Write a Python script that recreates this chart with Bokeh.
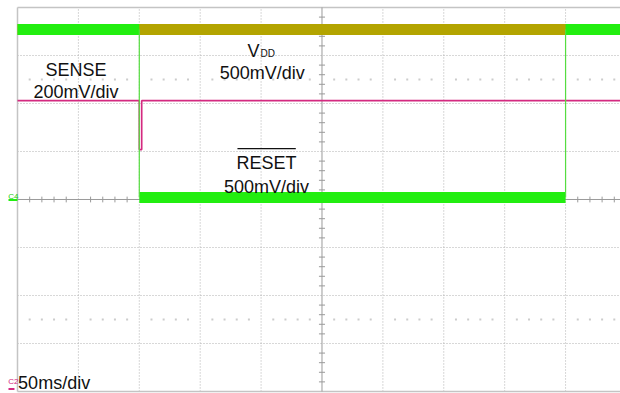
from bokeh.plotting import figure
from bokeh.models import Range1d, ColumnDataSource
from bokeh.core.properties import value
from bokeh.embed import file_html
from bokeh.resources import INLINE

# ---- data (x in ms, 50 ms/div; y in screen divisions) ----
time_div_ms = 50
n_xdiv = 10
n_ydiv = 8

vdd_t = [0, 500]
vdd_y = [3.54, 3.54]

reset_high_t = [[0, 100], [450, 500]]
reset_high_y = [[3.54, 3.54], [3.54, 3.54]]
reset_low_t = [100, 450]
reset_low_y = [0.04, 0.04]
reset_edges_t = [[100, 100], [450, 450]]
reset_edges_y = [[3.54, 0.04], [0.04, 3.54]]

sense_t = [0, 100, 100, 102, 102, 500]
sense_y = [2.06, 2.06, 1.04, 1.04, 2.06, 2.06]

label_text = ["SENSE", "200mV/div", "V", "500mV/div", "RESET", "500mV/div", "50ms/div"]

FONT = value("Liberation Sans")

p = figure(width=620, height=393, x_range=Range1d(-13.96, 495.1), y_range=Range1d(-4.042, 4.146),
           output_backend="svg", toolbar_location=None, min_border=0,
           x_axis_location=None, y_axis_location=None, outline_line_color=None,
           background_fill_color="white", border_fill_color="white")
p.grid.visible = False

# ---- graticule ----
xs_major = [i * time_div_ms for i in range(0, n_xdiv + 1)]
ys_major = [j for j in range(-4, 5)]
inner_x = [x for x in xs_major if x not in (0, 250)]
inner_y = [y for y in ys_major if y not in (-4, 0, 4)]
p.segment(x0=inner_x, y0=[-4] * len(inner_x), x1=inner_x, y1=[4] * len(inner_x),
          line_color="#b0b0b0", line_width=1, line_dash="1 2")
p.segment(x0=[0] * len(inner_y), y0=inner_y, x1=[500] * len(inner_y), y1=inner_y,
          line_color="#b0b0b0", line_width=1, line_dash="1 2")
# border
p.segment(x0=[0, 0, 0], y0=[4, -4, -4], x1=[500, 500, 0], y1=[4, -4, 4],
          line_color="#c4c4c4", line_width=1.5)
# center lines
p.segment(x0=[250, 0], y0=[-4, 0], x1=[250, 500], y1=[4, 0], line_color="#9a9a9a", line_width=1)
# ticks on center lines
tx = [i * 10 for i in range(0, 50) if i % 5 != 0]
p.segment(x0=tx, y0=[-0.06] * len(tx), x1=tx, y1=[0.06] * len(tx), line_color="#9a9a9a", line_width=1)
ty = [j * 0.2 - 4 for j in range(0, 41) if j % 5 != 0]
p.segment(x0=[247.5] * len(ty), y0=ty, x1=[252.5] * len(ty), y1=ty, line_color="#9a9a9a", line_width=1)
# faint dot rows
dx = [i * 10 for i in range(0, 50) if i % 5 != 0]
p.scatter(x=dx + dx, y=[2.5] * len(dx) + [-2.5] * len(dx), size=2, marker="square",
          fill_color="#cccccc", line_color=None)

# ---- traces ----
p.line(vdd_t, vdd_y, line_color="#b3a400", line_width=11)
p.line(sense_t, sense_y, line_color="#d42a80", line_width=1.6)
p.multi_line(reset_high_t, reset_high_y, line_color="#22ee10", line_width=11)
p.line(reset_low_t, reset_low_y, line_color="#22ee10", line_width=11)
p.multi_line(reset_edges_t, reset_edges_y, line_color="#55dd40", line_width=1.2)

# ---- labels ----
lab = ColumnDataSource(dict(
    x=[48, 48, 188.8, 201, 204.4, 204.4, 0.5],
    y=[2.69, 2.25, 3.10, 2.63, 0.75, 0.27, -3.83],
    text=label_text,
    align=["center", "center", "left", "center", "center", "center", "left"],
))
p.text(x="x", y="y", text="text", text_align="align", text_baseline="alphabetic",
       text_font=FONT, text_font_size="18px", text_color="#111111", source=lab)
p.text(x=[199.5], y=[3.04], text=["DD"], text_font=FONT, text_font_size="10px",
       text_baseline="alphabetic", text_color="#111111")
# overline of RESET
p.segment(x0=[180.6], y0=[1.06], x1=[228.5], y1=[1.06], line_color="#111111", line_width=1.3)

# channel markers
p.text(x=[-7.6], y=[0.06], text=["C4"], text_font=FONT, text_font_size="8px",
       text_baseline="alphabetic", text_color="#22cc10")
p.segment(x0=[-7.4], y0=[-0.01], x1=[0], y1=[-0.01], line_color="#22ee10", line_width=2)
p.text(x=[-7.6], y=[-3.8], text=["C2"], text_font=FONT, text_font_size="8px",
       text_baseline="alphabetic", text_color="#d42a80")
p.segment(x0=[-7.4], y0=[-3.95], x1=[-2.5], y1=[-3.95], line_color="#d42a80", line_width=2)

open("out.html", "w").write(file_html(p, INLINE))
